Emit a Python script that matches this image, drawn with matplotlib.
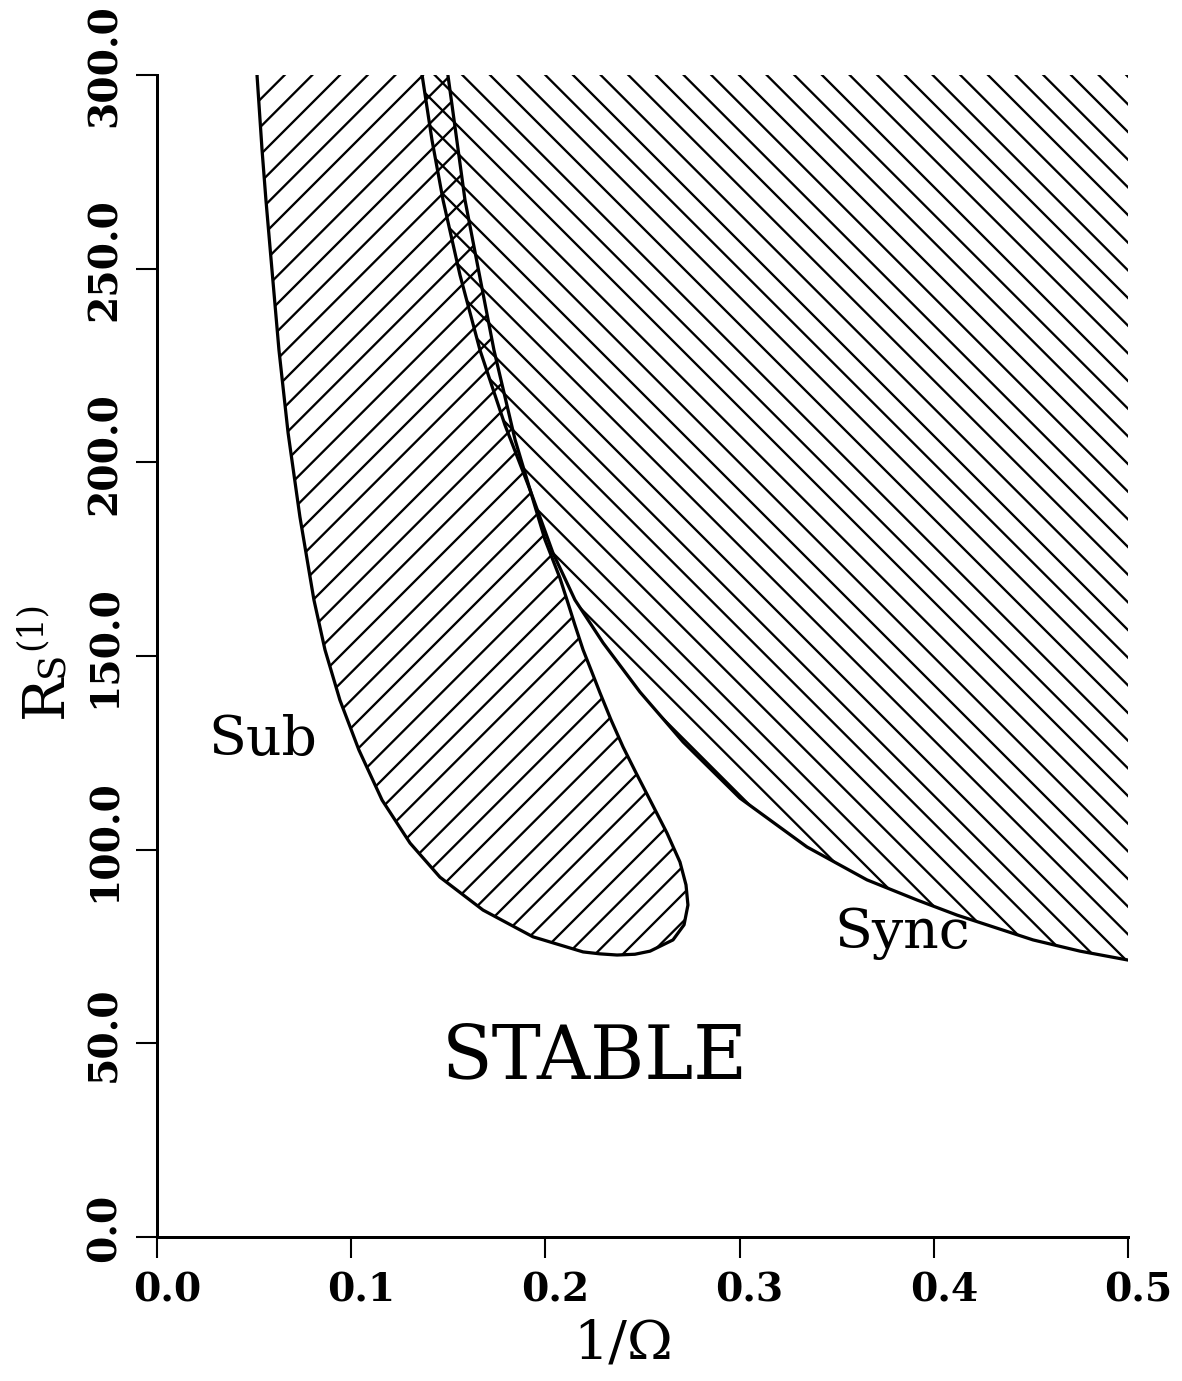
import matplotlib
matplotlib.use('Agg')
import matplotlib.pyplot as plt
from matplotlib.transforms import ScaledTranslation

# ---- data ----
# Sub region boundary: left branch (top -> bottom), around the tip, right branch (bottom -> top)
sub_x = [0.0515, 0.0541, 0.0561, 0.0592, 0.0628, 0.0675, 0.0736, 0.0808, 0.0865,
         0.0942, 0.1040, 0.1159, 0.1303, 0.1457, 0.1679, 0.1936, 0.2194, 0.2281,
         0.2369, 0.2461, 0.2539, 0.2657, 0.2714, 0.2734, 0.2724, 0.2693, 0.2626,
         0.2539, 0.2467, 0.2400, 0.2338, 0.2281, 0.2235, 0.2194, 0.2152, 0.2111,
         0.2075, 0.1998, 0.1921, 0.1844, 0.1735, 0.1586, 0.1498]
sub_y = [300.0, 280.6, 267.7, 249.7, 229.0, 207.6, 185.9, 164.5, 151.6,
         138.6, 125.7, 112.8, 101.7, 92.9, 84.4, 77.5, 73.6, 73.1,
         72.8, 73.0, 73.8, 76.7, 80.6, 85.7, 90.9, 96.8, 104.3,
         112.8, 119.8, 126.5, 133.5, 140.5, 146.4, 151.6, 158.0, 164.5,
         170.1, 180.0, 192.9, 205.8, 229.0, 267.7, 300.0]

# Sync region boundary (top -> right edge)
sync_x = [0.1365, 0.1416, 0.1473, 0.1560, 0.1663, 0.1792, 0.1921, 0.2039,
          0.2152, 0.2297, 0.2487, 0.2709, 0.3002, 0.3347, 0.3656, 0.3914,
          0.4120, 0.4511, 0.4753, 0.5000]
sync_y = [300.0, 283.2, 267.7, 248.4, 229.0, 209.6, 192.9, 176.6,
          164.5, 153.4, 140.7, 127.8, 113.3, 100.7, 92.2, 87.0,
          83.1, 76.7, 73.8, 71.5]

x_ticks = [0.0, 0.1, 0.2, 0.3, 0.4, 0.5]
x_tick_labels = ['0.0', '0.1', '0.2', '0.3', '0.4', '0.5']
y_ticks = [0, 50, 100, 150, 200, 250, 300]
y_tick_labels = ['0.0', '50.0', '100.0', '150.0', '200.0', '250.0', '300.0']

DPI = 166
plt.rcParams['font.family'] = ['DejaVu Serif']
plt.rcParams['hatch.linewidth'] = 1.0

fig = plt.figure(figsize=(1182 / DPI, 1381 / DPI), dpi=DPI)
fig.patch.set_facecolor('white')
ax = fig.add_axes([157 / 1182, 1 - 1237 / 1381, (1128 - 157) / 1182, (1237 - 75) / 1381])
ax.set_xlim(0, 0.5)
ax.set_ylim(0, 300)

# hatched regions
ax.fill(sync_x + [0.5], sync_y + [300.0], facecolor='none', edgecolor='black',
        linewidth=0, hatch='\\\\')
ax.fill(sub_x, sub_y, facecolor='none', edgecolor='black', linewidth=0, hatch='//')

# boundary curves
ax.plot(sub_x, sub_y, color='black', lw=1.4, solid_joinstyle='round')
ax.plot(sync_x, sync_y, color='black', lw=1.4, solid_joinstyle='round')

# axes styling
for s in ['top', 'right']:
    ax.spines[s].set_visible(False)
for s in ['left', 'bottom']:
    ax.spines[s].set_linewidth(1.3)

ax.set_xticks(x_ticks, x_tick_labels, fontsize=17, fontweight='bold')
ax.set_yticks(y_ticks, y_tick_labels, fontsize=17, fontweight='bold', rotation=90, va='center')
ax.tick_params(axis='x', direction='out', length=9, width=0.9, pad=6)
ax.tick_params(axis='y', direction='out', length=9, width=0.9, pad=5.5)

offx = ScaledTranslation(10 / DPI, 0, fig.dpi_scale_trans)
for lab in ax.get_xticklabels():
    lab.set_transform(lab.get_transform() + offx)
offy = ScaledTranslation(0, 9 / DPI, fig.dpi_scale_trans)
for lab in ax.get_yticklabels():
    lab.set_transform(lab.get_transform() + offy)

# annotations
ax.text(0.0546, 124.4, 'Sub', fontsize=24, ha='center', va='baseline')
ax.text(0.3836, 74.6, 'Sync', fontsize=24, ha='center', va='baseline')
ax.text(0.2253, 41.0, 'STABLE', fontsize=32, ha='center', va='baseline')

# axis labels
fig.text(623 / 1182, 1 - 1345 / 1381, '1/Ω', fontsize=24, ha='center', va='center')
fig.text(46 / 1182, 1 - 696 / 1381, 'R', fontsize=25, rotation=90, ha='center', va='center')
fig.text(53 / 1182, 1 - 664 / 1381, 'S', fontsize=16, rotation=90, ha='center', va='center')
fig.text(31 / 1182, 1 - 625 / 1381, '(1)', fontsize=15, rotation=90, ha='center', va='center')

fig.savefig('out.png', dpi=DPI)
